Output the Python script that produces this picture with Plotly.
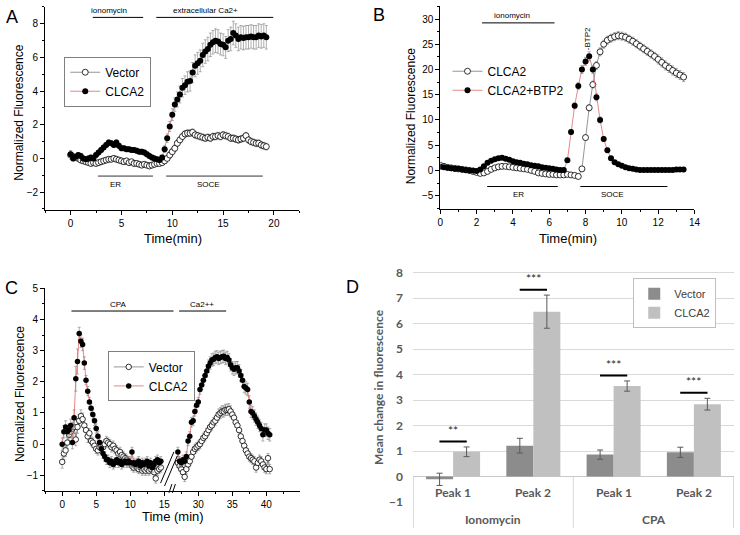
import plotly.graph_objects as go

W, H = 740, 535
ARIAL = "Liberation Sans, Arial, sans-serif"
CAL = "Lato, Carlito, sans-serif"

# ---------------- Panel A data (ionomycin / extracellular Ca2+) ----------------
T_A = [0, 0.25, 0.5, 0.75, 1, 1.25, 1.5, 1.75, 2, 2.25, 2.5, 2.75, 3, 3.25, 3.5, 3.75,
       4, 4.25, 4.5, 4.75, 5, 5.25, 5.5, 5.75, 6, 6.25, 6.5, 6.75, 7, 7.25, 7.5, 7.75,
       8, 8.25, 8.5, 8.75, 9, 9.25, 9.5, 9.75, 10, 10.25, 10.5, 10.75, 11, 11.25, 11.5, 11.75,
       12, 12.25, 12.5, 12.75, 13, 13.25, 13.5, 13.75, 14, 14.25, 14.5, 14.75, 15, 15.25, 15.5, 15.75,
       16, 16.25, 16.5, 16.75, 17, 17.25, 17.5, 17.75, 18, 18.25, 18.5, 18.75, 19, 19.25]
A_CLCA2 = [0.25, 0.00, 0.10, 0.20, 0.15, 0.00, -0.05, 0.00,
           0.05, 0.00, 0.20, 0.35, 0.50, 0.65, 0.80, 0.95,
           0.90, 0.80, 0.95, 0.75, 0.60, 0.60, 0.55, 0.55,
           0.50, 0.50, 0.45, 0.40, 0.40, 0.35, 0.25, 0.15,
           0.05, 0.00, -0.05, -0.10, 0.05, 0.55, 1.20, 1.90,
           2.60, 3.20, 3.50, 3.80, 4.20, 4.35, 4.55, 4.60,
           5.10, 5.50, 5.65, 5.80, 6.15, 6.35, 6.50, 6.75,
           6.90, 7.00, 6.95, 6.80, 6.75, 6.60, 7.00, 7.10,
           7.45, 7.30, 7.10, 7.20, 7.15, 7.20, 7.20, 7.25,
           7.20, 7.20, 7.30, 7.25, 7.30, 7.20]
A_CLCA2_ERR = [0.20, 0.15, 0.15, 0.15, 0.15, 0.15, 0.15, 0.15,
               0.15, 0.15, 0.15, 0.15, 0.15, 0.15, 0.15, 0.15,
               0.15, 0.15, 0.15, 0.15, 0.15, 0.15, 0.15, 0.15,
               0.15, 0.15, 0.15, 0.15, 0.15, 0.15, 0.15, 0.15,
               0.15, 0.15, 0.15, 0.15, 0.15, 0.20, 0.25, 0.30,
               0.35, 0.40, 0.45, 0.50, 0.55, 0.55, 0.60, 0.60,
               0.60, 0.65, 0.65, 0.65, 0.70, 0.70, 0.70, 0.70,
               0.70, 0.70, 0.70, 0.65, 0.65, 0.65, 0.65, 0.70,
               0.70, 0.70, 0.70, 0.70, 0.70, 0.70, 0.70, 0.70,
               0.70, 0.70, 0.70, 0.70, 0.70, 0.70]
A_VEC = [0.20, 0.10, 0.05, 0.00, -0.10, -0.15, -0.20, -0.25,
         -0.30, -0.25, -0.30, -0.25, -0.20, -0.15, -0.10, -0.05,
         -0.05, 0.00, -0.05, -0.10, -0.15, -0.20, -0.15, -0.25,
         -0.20, -0.30, -0.30, -0.35, -0.40, -0.35, -0.40, -0.45,
         -0.40, -0.35, -0.30, -0.30, -0.25, -0.15, 0.00, 0.20,
         0.40, 0.60, 0.90, 1.10, 1.30, 1.45, 1.50, 1.50,
         1.55, 1.40, 1.35, 1.30, 1.25, 1.20, 1.25, 1.20,
         1.30, 1.30, 1.35, 1.30, 1.40, 1.35, 1.30, 1.20,
         1.20, 1.15, 1.10, 1.15, 1.20, 1.35, 1.10, 1.00,
         0.95, 0.90, 0.90, 0.80, 0.75, 0.70]
A_VEC_ERR = [0.25, 0.20, 0.15, 0.15, 0.15, 0.15, 0.15, 0.15,
             0.15, 0.15, 0.15, 0.15, 0.15, 0.15, 0.15, 0.15,
             0.15, 0.15, 0.15, 0.15, 0.15, 0.15, 0.15, 0.15,
             0.15, 0.15, 0.15, 0.15, 0.15, 0.15, 0.15, 0.15,
             0.15, 0.15, 0.15, 0.15, 0.15, 0.15, 0.15, 0.20,
             0.20, 0.20, 0.20, 0.20, 0.20, 0.20, 0.20, 0.20,
             0.20, 0.20, 0.20, 0.20, 0.20, 0.20, 0.20, 0.20,
             0.20, 0.20, 0.20, 0.20, 0.20, 0.20, 0.20, 0.20,
             0.20, 0.20, 0.20, 0.20, 0.20, 0.20, 0.20, 0.20,
             0.20, 0.20, 0.20, 0.20, 0.20, 0.20]

# ---------------- Panel B data (BTP2) ----------------
T_B = [0, 0.2, 0.4, 0.6, 0.8, 1.0, 1.2, 1.4, 1.6, 1.8,
       2.0, 2.2, 2.4, 2.6, 2.8, 3.0, 3.2, 3.4, 3.6, 3.8,
       4.0, 4.2, 4.4, 4.6, 4.8, 5.0, 5.2, 5.4, 5.6, 5.8,
       6.0, 6.2, 6.4, 6.6, 6.8, 7.0, 7.2, 7.4, 7.6, 7.8,
       8.0, 8.2, 8.4, 8.6, 8.8, 9.0, 9.2, 9.4, 9.6, 9.8,
       10.0, 10.2, 10.4, 10.6, 10.8, 11.0, 11.2, 11.4, 11.6, 11.8,
       12.0, 12.2, 12.4, 12.6, 12.8, 13.0, 13.2, 13.4]
B_CLCA2 = [1.0, 0.8, 0.6, 0.5, 0.4, 0.3, 0.2, 0.1, 0.0, -0.2,
           -0.4, -0.6, -0.5, -0.2, 0.2, 0.5, 0.7, 0.8, 0.8, 0.7,
           0.6, 0.5, 0.4, 0.3, 0.2, 0.0, -0.2, -0.5, -0.6, -0.7,
           -0.8, -0.8, -0.9, -0.9, -0.9, -0.8, -0.9, -1.0, -1.2, 0.3,
           6.5, 12.4, 17.0, 20.8, 23.5, 25.0, 25.8, 26.2, 26.5, 26.7,
           26.6, 26.4, 26.0, 25.6, 25.1, 24.6, 24.1, 23.6, 23.1, 22.6,
           22.0, 21.4, 20.8, 20.3, 19.8, 19.3, 18.9, 18.5]
B_CLCA2_ERR = [0.5, 0.5, 0.5, 0.5, 0.5, 0.5, 0.5, 0.5, 0.5, 0.5,
               0.4, 0.4, 0.4, 0.4, 0.4, 0.4, 0.4, 0.4, 0.4, 0.4,
               0.4, 0.4, 0.4, 0.4, 0.4, 0.4, 0.4, 0.4, 0.4, 0.4,
               0.4, 0.4, 0.4, 0.4, 0.4, 0.4, 0.4, 0.4, 0.4, 0.4,
               0.5, 0.6, 0.7, 0.8, 0.8, 0.8, 0.8, 0.8, 0.8, 0.8,
               0.8, 0.8, 0.8, 0.8, 0.8, 0.8, 0.8, 0.8, 0.8, 0.8,
               0.9, 0.9, 0.9, 0.9, 0.9, 0.9, 0.9, 0.9]
B_BTP2 = [0.7, 0.6, 0.5, 0.4, 0.3, 0.3, 0.2, 0.1, 0.0, 0.0,
          -0.1, 0.2, 0.8, 1.5, 1.9, 2.2, 2.4, 2.5, 2.3, 2.1,
          1.8, 1.6, 1.5, 1.3, 1.2, 1.0, 0.9, 0.8, 0.6, 0.5,
          0.4, 0.3, 0.2, 0.1, 0.1, 2.0, 7.6, 12.8, 16.7, 20.0,
          21.6, 22.6, 20.0, 14.5, 10.0, 6.2, 4.0, 2.4, 1.6, 1.2,
          0.9, 0.6, 0.4, 0.3, 0.2, 0.1, 0.1, 0.1, 0.1, 0.1,
          0.1, 0.1, 0.1, 0.1, 0.1, 0.2, 0.2, 0.2]
B_BTP2_ERR = [0.3, 0.3, 0.3, 0.3, 0.3, 0.3, 0.3, 0.3, 0.3, 0.3,
              0.3, 0.3, 0.3, 0.3, 0.3, 0.3, 0.3, 0.3, 0.3, 0.3,
              0.3, 0.3, 0.3, 0.3, 0.3, 0.3, 0.3, 0.3, 0.3, 0.3,
              0.3, 0.3, 0.3, 0.3, 0.3, 0.4, 0.5, 0.6, 0.7, 0.8,
              0.8, 0.9, 0.8, 0.7, 0.6, 0.5, 0.4, 0.3, 0.3, 0.3,
              0.3, 0.3, 0.3, 0.3, 0.3, 0.3, 0.3, 0.3, 0.3, 0.3,
              0.3, 0.3, 0.3, 0.3, 0.3, 0.3, 0.3, 0.3]

# ---------------- Panel C data (CPA), real minutes, broken axis ----------------
T_C1 = [0, 0.25, 0.5, 0.75, 1, 1.25, 1.5, 1.75, 2, 2.25, 2.5, 2.75, 3, 3.25, 3.5, 3.75,
        4, 4.25, 4.5, 4.75, 5, 5.25, 5.5, 5.75, 6, 6.25, 6.5, 6.75, 7, 7.25, 7.5, 7.75,
        8, 8.25, 8.5, 8.75, 9, 9.25, 9.5, 9.75, 10, 10.25, 10.5, 10.75, 11, 11.25, 11.5, 11.75,
        12, 12.25, 12.5, 12.75, 13, 13.25, 13.5, 13.75, 14, 14.25, 14.5]
C_CLCA2_1 = [0.00, 0.40, 0.55, 0.40, 0.45, 0.60, 0.05, 0.85,
             2.10, 2.65, 3.55, 3.30, 3.20, 2.60, 2.05, 1.70,
             1.35, 1.15, 0.95, 0.75, 0.50, 0.25, 0.05, -0.15,
             -0.30, -0.40, -0.50, -0.50, -0.60, -0.55, -0.65, -0.60,
             -0.50, -0.60, -0.55, -0.65, -0.60, -0.55, -0.60, -0.55,
             -0.60, -0.25, -0.60, -0.65, -0.60, -0.55, -0.70, -0.60,
             -0.65, -0.60, -0.55, -0.70, -0.60, -0.75, -0.65, -0.55,
             -0.50, -0.60, -0.55]
C_CLCA2_1_ERR = [0.20, 0.20, 0.20, 0.20, 0.20, 0.20, 0.20, 0.25,
                 0.40, 0.40, 0.20, 0.20, 0.20, 0.20, 0.15, 0.15,
                 0.15, 0.15, 0.15, 0.15, 0.15, 0.15, 0.15, 0.15,
                 0.15, 0.15, 0.15, 0.15, 0.15, 0.15, 0.15, 0.15,
                 0.15, 0.15, 0.15, 0.15, 0.15, 0.15, 0.15, 0.15,
                 0.15, 0.15, 0.15, 0.15, 0.15, 0.15, 0.15, 0.15,
                 0.15, 0.15, 0.15, 0.15, 0.15, 0.15, 0.15, 0.15,
                 0.15, 0.15, 0.15]
C_VEC_1 = [-0.57, -0.30, -0.20, 0.05, 0.30, 0.40, 0.50, 0.55,
           0.15, 0.55, 0.75, 0.90, 0.80, 0.60, 0.45, 0.25,
           0.35, 0.10, 0.05, -0.05, -0.15, -0.20, -0.10, -0.05,
           -0.10, 0.00, 0.10, 0.05, 0.00, -0.10, -0.05, -0.15,
           -0.20, -0.30, -0.25, -0.35, -0.40, -0.45, -0.50, -0.55,
           -0.60, -0.70, -0.75, -0.70, -0.75, -0.80, -0.75, -0.85,
           -0.80, -0.85, -0.80, -0.85, -0.80, -0.75, -0.90, -1.10,
           -0.85, -0.80, -0.75]
C_VEC_1_ERR = [0.20, 0.20, 0.20, 0.20, 0.20, 0.20, 0.20, 0.20,
               0.20, 0.20, 0.20, 0.20, 0.20, 0.20, 0.20, 0.20,
               0.15, 0.15, 0.15, 0.15, 0.15, 0.15, 0.15, 0.15,
               0.15, 0.15, 0.15, 0.15, 0.15, 0.15, 0.15, 0.15,
               0.15, 0.15, 0.15, 0.15, 0.15, 0.15, 0.15, 0.15,
               0.15, 0.15, 0.15, 0.15, 0.15, 0.15, 0.15, 0.15,
               0.15, 0.15, 0.15, 0.15, 0.15, 0.15, 0.15, 0.15,
               0.15, 0.15, 0.15]
T_C2 = [27, 27.25, 27.5, 27.75, 28, 28.25, 28.5, 28.75, 29, 29.25, 29.5, 29.75, 30, 30.25, 30.5, 30.75,
        31, 31.25, 31.5, 31.75, 32, 32.25, 32.5, 32.75, 33, 33.25, 33.5, 33.75, 34, 34.25, 34.5, 34.75,
        35, 35.25, 35.5, 35.75, 36, 36.25, 36.5, 36.75, 37, 37.25, 37.5, 37.75, 38, 38.25, 38.5, 38.75,
        39, 39.25, 39.5, 39.75, 40, 40.25, 40.5]
C_CLCA2_2 = [-0.25, -0.55, -0.60, -0.50, -0.55, -0.40, 0.10, 0.25,
             0.70, 0.75, 1.05, 1.25, 1.35, 1.75, 1.90, 2.05,
             2.20, 2.35, 2.50, 2.60, 2.70, 2.72, 2.78, 2.80,
             2.75, 2.78, 2.80, 2.82, 2.75, 2.78, 2.70, 2.55,
             2.45, 2.40, 2.45, 2.45, 2.35, 2.20, 2.05, 1.85,
             1.80, 1.75, 1.35, 1.05, 1.00, 0.90, 0.80, 0.70,
             0.60, 0.50, 0.30, 0.45, 0.45, 0.35, 0.30]
C_CLCA2_2_ERR = [0.15, 0.15, 0.15, 0.15, 0.15, 0.15, 0.15, 0.15,
                 0.15, 0.15, 0.15, 0.15, 0.15, 0.15, 0.15, 0.15,
                 0.15, 0.20, 0.20, 0.20, 0.20, 0.20, 0.20, 0.20,
                 0.20, 0.20, 0.20, 0.20, 0.20, 0.20, 0.20, 0.20,
                 0.20, 0.20, 0.20, 0.20, 0.20, 0.20, 0.20, 0.20,
                 0.20, 0.20, 0.20, 0.20, 0.20, 0.20, 0.20, 0.20,
                 0.20, 0.20, 0.20, 0.20, 0.20, 0.20, 0.20]
C_VEC_2 = [-0.60, -0.70, -0.80, -0.90, -1.05, -0.80, -0.65, -0.55,
           -0.40, -0.25, -0.15, -0.10, -0.05, 0.00, 0.10, 0.20,
           0.25, 0.35, 0.45, 0.55, 0.60, 0.70, 0.75, 0.85,
           0.95, 1.00, 1.05, 1.05, 1.10, 1.10, 1.12, 1.05,
           0.95, 0.85, 0.70, 0.60, 0.45, 0.25, 0.10, -0.05,
           -0.20, -0.30, -0.40, -0.45, -0.50, -0.55, -0.75, -0.60,
           -0.50, -0.55, -0.65, -0.75, -0.80, -0.45, -0.80]
C_VEC_2_ERR = [0.15, 0.15, 0.15, 0.15, 0.15, 0.15, 0.15, 0.15,
               0.15, 0.15, 0.15, 0.15, 0.15, 0.15, 0.15, 0.15,
               0.15, 0.15, 0.15, 0.15, 0.15, 0.15, 0.15, 0.15,
               0.18, 0.18, 0.18, 0.18, 0.18, 0.18, 0.18, 0.18,
               0.15, 0.15, 0.15, 0.15, 0.15, 0.15, 0.15, 0.15,
               0.15, 0.15, 0.15, 0.15, 0.15, 0.15, 0.15, 0.15,
               0.15, 0.15, 0.15, 0.15, 0.15, 0.15, 0.15]
C_TICKS = [0, 5, 10, 15, 30, 35, 40, 45]

# ---------------- Panel D data (bar summary) ----------------
D_GROUPS = ["Ionomycin", "CPA"]
D_PEAKS = ["Peak 1", "Peak 2", "Peak 1", "Peak 2"]
D_VEC = [-0.11, 1.21, 0.86, 0.95]
D_VEC_ERR = [0.24, 0.29, 0.18, 0.20]
D_CLCA2 = [0.97, 6.47, 3.55, 2.84]
D_CLCA2_ERR = [0.19, 0.65, 0.20, 0.23]
D_SIG_Y = [1.37, 7.33, 3.96, 3.29]
D_SIG_TXT = ["**", "***", "***", "***"]

for a, b in [(T_A, A_CLCA2), (T_A, A_CLCA2_ERR), (T_A, A_VEC), (T_A, A_VEC_ERR),
             (T_B, B_CLCA2), (T_B, B_CLCA2_ERR), (T_B, B_BTP2), (T_B, B_BTP2_ERR),
             (T_C1, C_CLCA2_1), (T_C1, C_CLCA2_1_ERR), (T_C1, C_VEC_1), (T_C1, C_VEC_1_ERR),
             (T_C2, C_CLCA2_2), (T_C2, C_CLCA2_2_ERR), (T_C2, C_VEC_2), (T_C2, C_VEC_2_ERR)]:
    assert len(a) == len(b), (len(a), len(b))


def c_pos(t):
    """Broken time axis of panel C: minutes 16-26 are cut out."""
    return t if t <= 16 else t - 10


def px(x):
    return x / W


def py(y):
    return 1 - y / H


fig = go.Figure()

RED = "#e06868"
GREY = "#7a7a7a"
ERRC = "#8c8c8c"


def open_trace(x, y, err, name, xa, ya, leg, show=True, size=6):
    return go.Scatter(x=x, y=y, name=name, mode="lines+markers", xaxis=xa, yaxis=ya,
                      legend=leg, showlegend=show, legendgroup=leg + name,
                      line=dict(color=GREY, width=0.8),
                      marker=dict(symbol="circle", size=size, color="white",
                                  line=dict(color="black", width=0.8)),
                      error_y=dict(type="data", array=err, color=ERRC, thickness=0.7, width=1.5))


def filled_trace(x, y, err, name, xa, ya, leg, show=True, size=6):
    return go.Scatter(x=x, y=y, name=name, mode="lines+markers", xaxis=xa, yaxis=ya,
                      legend=leg, showlegend=show, legendgroup=leg + name,
                      line=dict(color=RED, width=0.8),
                      marker=dict(symbol="circle", size=size, color="black",
                                  line=dict(color="black", width=0)),
                      error_y=dict(type="data", array=err, color=ERRC, thickness=0.7, width=1.5))


# A
fig.add_trace(open_trace(T_A, A_VEC, A_VEC_ERR, "Vector", "x", "y", "legend"))
fig.add_trace(filled_trace(T_A, A_CLCA2, A_CLCA2_ERR, "CLCA2", "x", "y", "legend"))
# B
fig.add_trace(open_trace(T_B, B_CLCA2, B_CLCA2_ERR, "CLCA2", "x2", "y2", "legend2"))
fig.add_trace(filled_trace(T_B, B_BTP2, B_BTP2_ERR, "CLCA2+BTP2", "x2", "y2", "legend2"))
# C
fig.add_trace(open_trace([c_pos(t) for t in T_C1], C_VEC_1, C_VEC_1_ERR, "Vector", "x3", "y3", "legend3", size=5.5))
fig.add_trace(open_trace([c_pos(t) for t in T_C2], C_VEC_2, C_VEC_2_ERR, "Vector", "x3", "y3", "legend3", show=False, size=5.5))
fig.add_trace(filled_trace([c_pos(t) for t in T_C1], C_CLCA2_1, C_CLCA2_1_ERR, "CLCA2", "x3", "y3", "legend3", size=5.5))
fig.add_trace(filled_trace([c_pos(t) for t in T_C2], C_CLCA2_2, C_CLCA2_2_ERR, "CLCA2", "x3", "y3", "legend3", show=False, size=5.5))
# D
xd = list(range(len(D_PEAKS)))
fig.add_trace(go.Bar(x=xd, y=D_VEC, name="Vector", xaxis="x4", yaxis="y4", legend="legend4",
                     marker=dict(color="#8c8c8c", line=dict(width=0)),
                     error_y=dict(type="data", array=D_VEC_ERR, color="#595959", thickness=1, width=3)))
fig.add_trace(go.Bar(x=xd, y=D_CLCA2, name="CLCA2", xaxis="x4", yaxis="y4", legend="legend4",
                     marker=dict(color="#c0c0c0", line=dict(width=0)),
                     error_y=dict(type="data", array=D_CLCA2_ERR, color="#595959", thickness=1, width=3)))

TF = dict(family=ARIAL, size=10, color="black")


def lin_axis(dom, rng, dtick, mdtick, anchor, **kw):
    d = dict(domain=dom, range=rng, anchor=anchor, showline=True, linecolor="black", linewidth=1,
             ticks="outside", ticklen=4, tickwidth=1, tickcolor="black", showgrid=False,
             zeroline=False, tickfont=TF, dtick=dtick, tick0=0,
             minor=dict(ticks="outside", ticklen=2, tickcolor="black", dtick=mdtick, tick0=0, showgrid=False))
    d.update(kw)
    return d


LEGFONT = dict(family=ARIAL, size=12, color="black")

fig.update_layout(
    width=W, height=H, margin=dict(l=0, r=0, t=0, b=0),
    paper_bgcolor="white", plot_bgcolor="white",
    font=dict(family=ARIAL, color="black"),
    hovermode=False,
    barmode="group", bargap=0.327, bargroupgap=0,
    xaxis=lin_axis([px(42.7), px(300)], [-2.5, 22.5], 5, 2.5, "y"),
    yaxis=lin_axis([py(209.3), py(1.0)], [-3.08, 9], 2, 1, "x"),
    xaxis2=lin_axis([px(442.7), px(700)], [0, 14], 2, 1, "y2"),
    yaxis2=lin_axis([py(208.3), py(0.4)], [-7.7, 32.5], 5, 2.5, "x2"),
    xaxis3=lin_axis([px(42.7), px(300.3)], [-2.5, 34.9], 5, 2.5, "y3",
                    tickmode="array", tickvals=[c_pos(t) for t in C_TICKS],
                    ticktext=[str(t) for t in C_TICKS]),
    yaxis3=lin_axis([py(497.3), py(289.3)], [-1.51, 5], 1, 0.5, "x3"),
    xaxis4=dict(domain=[px(415), 1.0], range=[-0.5, 3.5], anchor="y4", showline=False,
                showgrid=False, zeroline=False, showticklabels=False, ticks=""),
    yaxis4=dict(domain=[py(508.6), py(265.5)], range=[-1.01, 8.3], anchor="x4", showline=False,
                showgrid=True, gridcolor="#d9d9d9", gridwidth=1, zeroline=True,
                zerolinecolor="#c8c8c8", zerolinewidth=1, dtick=1, tick0=0, ticks="",
                ticklabelstandoff=9,
                tickfont=dict(family=CAL, size=12, color="#595959", weight="bold")),
    legend=dict(x=px(62), y=py(52), xanchor="left", yanchor="top", bgcolor="white",
                bordercolor="#7f7f7f", borderwidth=1, tracegroupgap=0, font=LEGFONT),
    legend2=dict(x=px(450), y=py(52), xanchor="left", yanchor="top", bgcolor="rgba(0,0,0,0)",
                 borderwidth=0, tracegroupgap=0, font=LEGFONT),
    legend3=dict(x=px(106), y=py(354), xanchor="left", yanchor="top", bgcolor="white",
                 bordercolor="#7f7f7f", borderwidth=1, tracegroupgap=0, font=LEGFONT),
    legend4=dict(x=px(638), y=py(279), xanchor="left", yanchor="top", bgcolor="white",
                 bordercolor="#bfbfbf", borderwidth=1, tracegroupgap=0,
                 font=dict(family=ARIAL, size=11, color="#404040")),
)

ann = []
shapes = []


def txt(text, x, y, xref="paper", yref="paper", size=8, angle=0, xanchor="center",
        yanchor="middle", family=ARIAL, color="black", bold=False):
    f = dict(family=family, size=size, color=color)
    if bold:
        f["weight"] = "bold"
    ann.append(dict(text=text, x=x, y=y, xref=xref, yref=yref, showarrow=False,
                    textangle=angle, xanchor=xanchor, yanchor=yanchor, font=f))


def seg(x0, x1, y, xref, yref, color="black", width=1):
    shapes.append(dict(type="line", x0=x0, x1=x1, y0=y, y1=y, xref=xref, yref=yref,
                       line=dict(color=color, width=width)))


# panel letters
txt("A", px(9), py(11.5), size=18)
txt("B", px(380.5), py(9.5), size=18)
txt("C", px(8.5), py(289), size=18)
txt("D", px(353.5), py(288), size=18)

# axis titles
txt("Normalized Fluorescence", px(16.5), py(109), size=12, angle=-90)
txt("Time(min)", px(172), py(238), size=13)
txt("Normalized Fluorescence", px(413), py(113), size=12, angle=-90)
txt("Time(min)", px(571.7), py(238), size=13)
txt("Normalized Fluorescence", px(18), py(398), size=12, angle=-90)
txt("Time (min)", px(171.7), py(523), size=13)
txt("Mean change in fluorescence", px(380), py(390), size=12, angle=-90,
    family=CAL, color="#595959", bold=True)

# Panel A treatment bars
seg(2.18, 7.14, 8.38, "x", "y")
txt("ionomycin", 3.73, 8.77, "x", "y")
seg(8.43, 19.94, 8.38, "x", "y")
txt("extracellular Ca2+", 13.3, 8.77, "x", "y")
seg(2.69, 8.1, -1.05, "x", "y", color="#333333")
txt("ER", 4.38, -1.54, "x", "y")
seg(9.4, 18.9, -1.05, "x", "y", color="#333333")
txt("SOCE", 13.6, -1.54, "x", "y")

# Panel B
seg(2.30, 6.29, 29.23, "x2", "y2")
txt("ionomycin", 3.97, 30.7, "x2", "y2")
txt("-BTP2", 8.11, 26.1, "x2", "y2", angle=-90)
seg(2.58, 6.47, -3.2, "x2", "y2")
txt("ER", 4.3, -4.8, "x2", "y2")
seg(7.71, 12.51, -3.2, "x2", "y2")
txt("SOCE", 9.5, -4.8, "x2", "y2")

# Panel C
seg(1.36, 16.36, 4.27, "x3", "y3")
txt("CPA", 8.23, 4.47, "x3", "y3")
seg(17.18, 24.1, 4.27, "x3", "y3")
txt("Ca2++", 20.57, 4.47, "x3", "y3")
# axis-break marks
for (x0, y0, x1, y1) in [(159.5, 489, 173, 457), (163.5, 492, 176.5, 461),
                         (168, 499, 171, 490), (171.5, 499, 174.5, 490)]:
    shapes.append(dict(type="line", xref="paper", yref="paper", x0=px(x0), y0=py(y0),
                       x1=px(x1), y1=py(y1), line=dict(color="black", width=1)))

# Panel D category labels and dividers
for i, p in enumerate(D_PEAKS):
    txt(p, i, -0.64, "x4", "y4", size=12, family=CAL, color="#595959", bold=True)
for g, xc in zip(D_GROUPS, [0.5, 2.5]):
    txt(g, xc, py(526.7), "x4", "paper", size=12, family=CAL, color="#595959", bold=True)
for xpx in [415.5, 577.3, 739.5]:
    shapes.append(dict(type="line", xref="paper", yref="paper", x0=px(xpx), x1=px(xpx),
                       y0=py(482.7), y1=0, line=dict(color="#d9d9d9", width=1)))
# significance bars
for i, (ys, s) in enumerate(zip(D_SIG_Y, D_SIG_TXT)):
    seg(i - 0.17, i + 0.17, ys, "x4", "y4", color="black", width=2)
    txt(s, i, ys + 0.07, "x4", "y4", size=12, family=CAL, color="#262626", yanchor="bottom")

fig.update_layout(annotations=ann, shapes=shapes)
fig.write_html("out.html", config={"displayModeBar": False, "staticPlot": True},
               post_script="document.body.style.margin='0';document.body.style.overflow='hidden';")
